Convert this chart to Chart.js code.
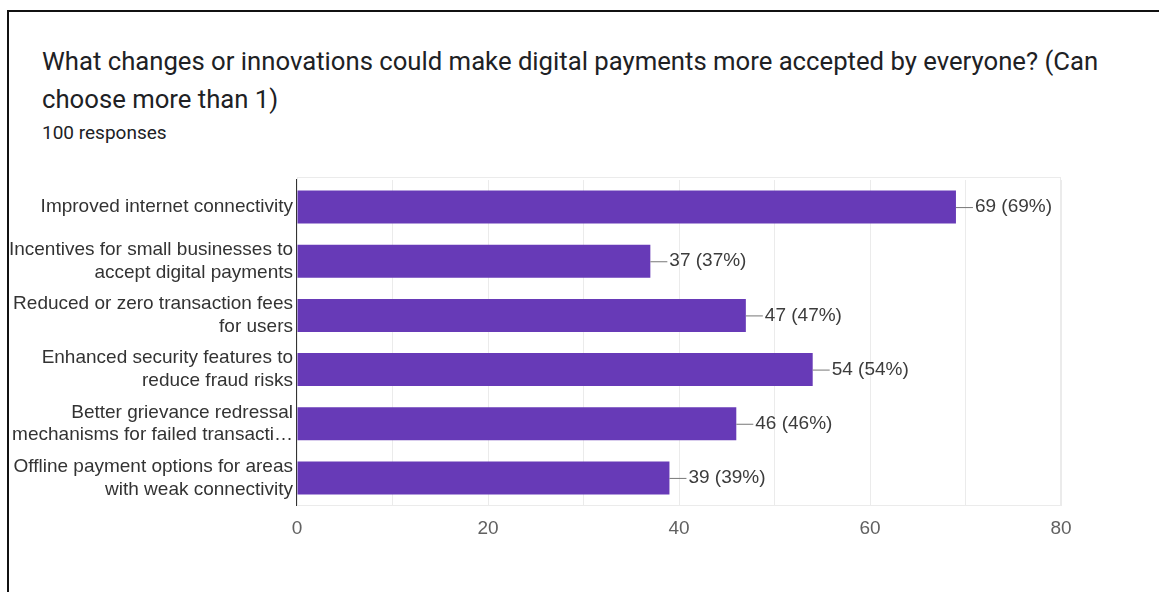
<!DOCTYPE html>
<html>
<head>
<meta charset="utf-8">
<script src="https://cdn.jsdelivr.net/npm/chart.js@4.4.1/dist/chart.umd.min.js"></script>
<style>
  html, body { margin: 0; padding: 0; background: #fff; }
  body { width: 1159px; height: 592px; overflow: hidden; position: relative; }
  .frame { position: absolute; left: 7px; top: 10px; width: 1200px; height: 700px;
           border-top: 2px solid #111; border-left: 2px solid #111; }
  .title { position: absolute; left: 42px; top: 42px; width: 1110px; white-space: nowrap;
           font-family: Roboto, sans-serif; font-size: 25.7px; line-height: 38px; color: #202124; }
  .sub { position: absolute; left: 42px; top: 122px;
         font-family: Roboto, sans-serif; font-size: 19px; line-height: 22px; color: #202124; }
  #myChart { position: absolute; left: 0; top: 0; }
</style>
</head>
<body>
<div class="frame"></div>
<div class="title">What changes or innovations could make digital payments more accepted by everyone? (Can<br>choose more than 1)</div>
<div class="sub">100 responses</div>
<canvas id="myChart" width="1159" height="592"></canvas>
<script>
var labels = [
  ["Improved internet connectivity"],
  ["Incentives for small businesses to", "accept digital payments"],
  ["Reduced or zero transaction fees", "for users"],
  ["Enhanced security features to", "reduce fraud risks"],
  ["Better grievance redressal", "mechanisms for failed transacti\u2026"],
  ["Offline payment options for areas", "with weak connectivity"]
];
var counts = [69, 37, 47, 54, 46, 39];
var totalResponses = 100;
var xTicks = [0, 20, 40, 60, 80];

// leader line + "n (p%)" next to each bar
var valueLabels = {
  id: "valueLabels",
  afterDatasetsDraw: function(chart){
    var ctx = chart.ctx;
    var meta = chart.getDatasetMeta(0);
    ctx.save();
    ctx.font = "19px 'Liberation Sans', Arial, sans-serif";
    ctx.textBaseline = "middle";
    meta.data.forEach(function(bar, i){
      var v = counts[i];
      var pct = Math.round(v / totalResponses * 100);
      ctx.strokeStyle = "#777";
      ctx.lineWidth = 1;
      ctx.beginPath();
      ctx.moveTo(bar.x, bar.y + 0.5);
      ctx.lineTo(bar.x + 17, bar.y + 0.5);
      ctx.stroke();
      ctx.fillStyle = "#3c3c3c";
      ctx.fillText(v + " (" + pct + "%)", bar.x + 19, bar.y);
    });
    ctx.restore();
  }
};

// light frame round the plot area
var plotFrame = {
  id: "plotFrame",
  beforeDatasetsDraw: function(chart){
    var a = chart.chartArea;
    var ctx = chart.ctx;
    ctx.save();
    ctx.strokeStyle = "#ebebeb";
    ctx.lineWidth = 1;
    ctx.strokeRect(a.left + 0.5, a.top - 2.5, a.right - a.left - 1, a.bottom - a.top + 3);
    ctx.restore();
  }
};

new Chart("myChart", {
  type: "bar",
  data: {
    labels: labels,
    datasets: [{
      data: counts,
      backgroundColor: "#673ab7",
      borderWidth: 0,
      barPercentage: 0.61,
      categoryPercentage: 1
    }]
  },
  plugins: [plotFrame, valueLabels],
  options: {
    indexAxis: "y",
    responsive: false,
    animation: false,
    events: [],
    layout: { padding: { top: 180, right: 98, left: 0, bottom: 0 } },
    plugins: {
      legend: { display: false },
      tooltip: { enabled: false }
    },
    scales: {
      x: {
        min: 0,
        max: 80,
        afterFit: function(scale){ scale.height = 87; },
        afterBuildTicks: function(scale){
          scale.ticks = [];
          for (var v = 0; v <= 80; v += 10) scale.ticks.push({ value: v });
        },
        grid: { color: "#ebebeb", drawTicks: false },
        border: { color: "#ebebeb" },
        ticks: {
          autoSkip: false,
          maxRotation: 0,
          padding: 12,
          color: "#616161",
          font: { family: "'Liberation Sans', Arial, sans-serif", size: 19 },
          callback: function(v){ return xTicks.indexOf(v) >= 0 ? v : ""; }
        }
      },
      y: {
        afterFit: function(scale){ scale.width = 297; },
        grid: { display: false, drawTicks: false },
        border: { color: "#333", width: 2 },
        ticks: {
          padding: 4,
          color: "#333",
          font: { family: "'Liberation Sans', Arial, sans-serif", size: 19, lineHeight: 1.2 }
        }
      }
    }
  }
});
</script>
</body>
</html>
